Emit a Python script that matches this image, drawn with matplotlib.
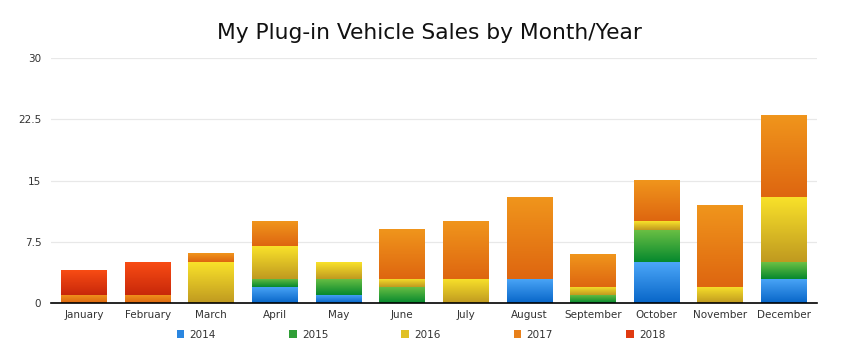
import numpy as np
import matplotlib
matplotlib.use("Agg")
import matplotlib.pyplot as plt
from matplotlib.colors import LinearSegmentedColormap
from matplotlib.patches import Patch

months = ["January", "February", "March", "April", "May", "June", "July",
          "August", "September", "October", "November", "December"]
years = ["2014", "2015", "2016", "2017", "2018"]
sales_2014 = [0, 0, 0, 2, 1, 0, 0, 3, 0, 5, 0, 3]
sales_2015 = [0, 0, 0, 1, 2, 2, 0, 0, 1, 4, 0, 2]
sales_2016 = [0, 0, 5, 4, 2, 1, 3, 0, 1, 1, 2, 8]
sales_2017 = [1, 1, 1, 3, 0, 6, 7, 10, 4, 5, 10, 10]
sales_2018 = [3, 4, 0, 0, 0, 0, 0, 0, 0, 0, 0, 0]
series = [sales_2014, sales_2015, sales_2016, sales_2017, sales_2018]

# (top, bottom) gradient colours per year
grads = [("#4ba6f8", "#0866c8"), ("#6cc044", "#06892e"), ("#f9e22a", "#c09a20"),
         ("#f0951c", "#de6610"), ("#f84c14", "#c8280a")]
legend_cols = ["#2a86e0", "#2f9e36", "#e0c024", "#e8801a", "#e03a10"]

fig = plt.figure(figsize=(8.42, 3.6), dpi=100)
ax = fig.add_axes([0.0606, 0.158, 0.9097, 0.681])

x = np.arange(len(months))
width = 0.72
bottom = np.zeros(len(months))
grad = np.linspace(1, 0, 64).reshape(-1, 1)
for vals, (top_c, bot_c) in zip(series, grads):
    vals = np.array(vals, dtype=float)
    bars = ax.bar(x, vals, width, bottom=bottom, color="none", edgecolor="none")
    cmap = LinearSegmentedColormap.from_list("g", [bot_c, top_c])
    for b, v in zip(bars, vals):
        if v <= 0:
            continue
        x0, y0 = b.get_x(), b.get_y()
        ax.imshow(grad, cmap=cmap, aspect="auto", vmin=0, vmax=1,
                  extent=[x0, x0 + b.get_width(), y0, y0 + b.get_height()],
                  zorder=2, interpolation="bilinear")
    bottom += vals

ax.set_xlim(-0.52, 11.52)
ax.set_ylim(0, 30)
ax.set_yticks([0, 7.5, 15, 22.5, 30])
ax.set_yticklabels(["0", "7.5", "15", "22.5", "30"])
ax.set_xticks(x)
ax.set_xticklabels(months)
ax.tick_params(axis="both", length=0, labelsize=7.5, colors="#333333")
ax.tick_params(axis="y", pad=7)
ax.tick_params(axis="x", pad=5)
ax.grid(axis="y", color="#e8e8e8", lw=0.9, zorder=0)
ax.set_axisbelow(True)
for s in ["top", "right", "left"]:
    ax.spines[s].set_visible(False)
ax.spines["bottom"].set_color("black")
ax.spines["bottom"].set_linewidth(1.2)
ax.spines["bottom"].set_zorder(5)

fig.text(0.51, 0.907, "My Plug-in Vehicle Sales by Month/Year", ha="center",
         va="center", fontsize=15.7, color="#111111")

handles = [Patch(facecolor=c, edgecolor="none") for c in legend_cols]
fig.legend(handles, years, loc="center", bbox_to_anchor=(0.5, 0.07), ncol=5,
           frameon=False, fontsize=7.5, handlelength=0.75, handleheight=0.75,
           handletextpad=0.5, columnspacing=7.0, labelcolor="#333333")

fig.savefig("out.png", dpi=100)
